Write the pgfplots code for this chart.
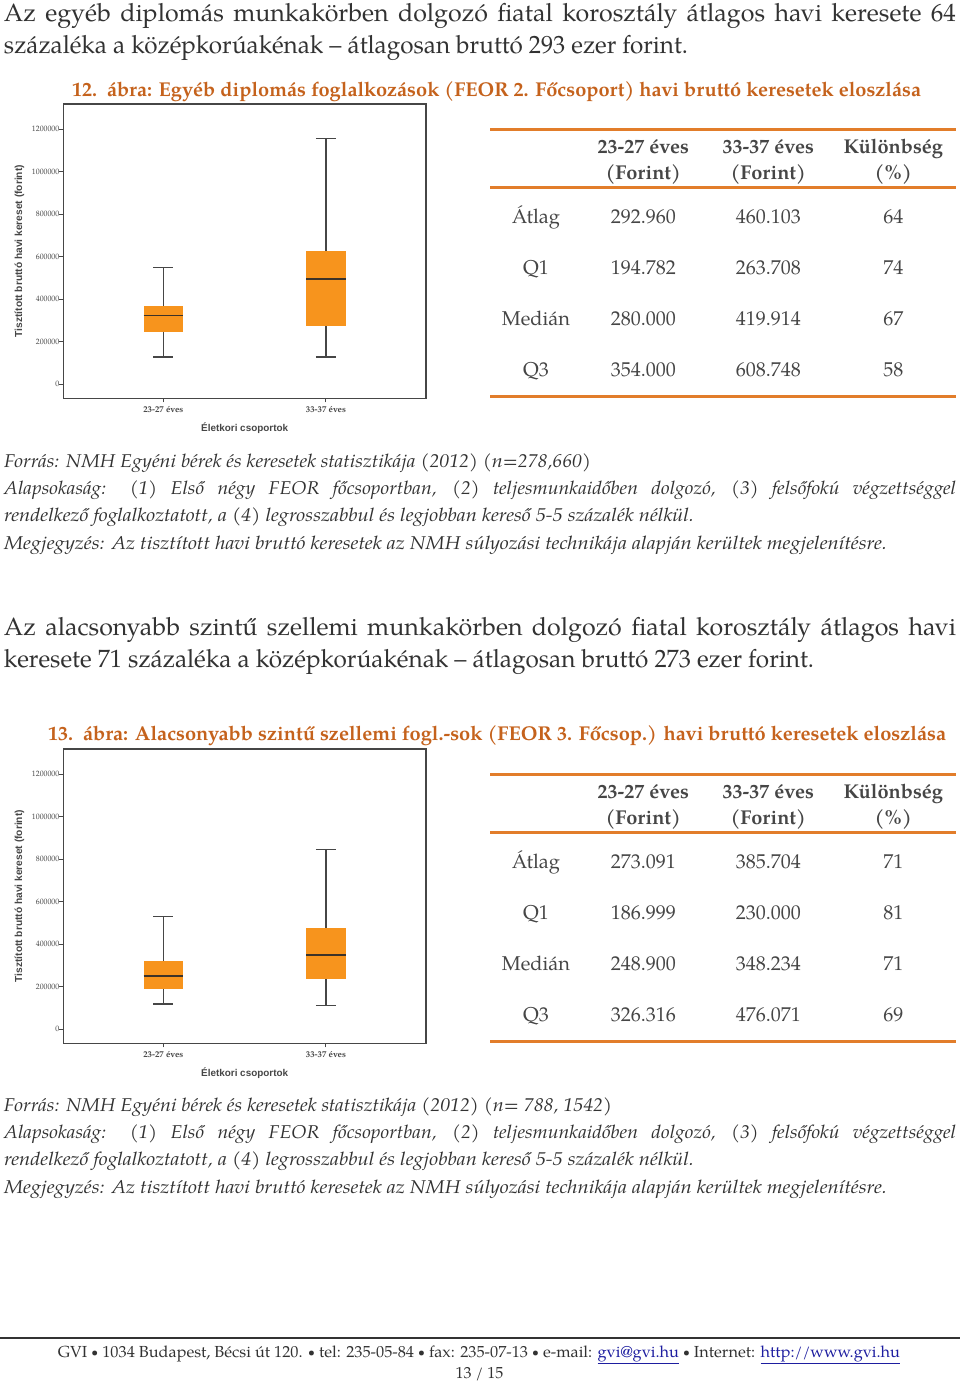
\documentclass[border=0pt]{standalone}
\usepackage{fontspec}
\setmainfont{TeX Gyre Pagella}
\newfontfamily\sansf{Liberation Sans}
\usepackage{graphicx}
\usepackage{pgfplots}
\pgfplotsset{compat=1.18}
\usepgfplotslibrary{statistics}

\definecolor{boxor}{RGB}{247,148,29}
\definecolor{ruleor}{RGB}{226,125,42}
\definecolor{capor}{RGB}{197,98,28}
\definecolor{txt}{RGB}{50,50,50}
\definecolor{axgray}{RGB}{70,70,70}
\definecolor{medgray}{RGB}{60,50,40}
\definecolor{linkblue}{RGB}{30,30,160}

\newcommand\fitline[2]{\resizebox{#1}{\height}{#2}}
\newcommand\bul{\raisebox{0.1ex}{\scalebox{0.75}{•}}}

\pgfplotsset{
  boxax/.style={
    scale only axis, width=362.7pt, height=294.3pt,
    xmin=-0.615, xmax=1.615, ymin=-67000, ymax=1319000,
    xtick={0,1}, xticklabels={23-27 éves, 33-37 éves},
    ytick={0,200000,400000,600000,800000,1000000,1200000},
    scaled y ticks=false,
    yticklabel style={/pgf/number format/fixed, /pgf/number format/1000 sep={},
      /pgf/number format/assume math mode=true,
      font=\fontsize{7.8}{9}\selectfont, text=axgray},
    xticklabel style={font=\bfseries\fontsize{8.8}{10}\selectfont, text=axgray, yshift=-4pt},
    tick align=outside, tick pos=left, major tick length=4pt,
    axis line style={axgray, line width=1.1pt},
    every tick/.style={axgray, line width=1pt},
    xlabel={Életkori csoportok},
    ylabel={Tisztított bruttó havi kereset (forint)},
    xlabel style={font=\sansf\bfseries\fontsize{9.9}{11}\selectfont, text=axgray,
      at={(axis description cs:0.5,-0.102)}, anchor=center},
    ylabel style={font=\sansf\bfseries\fontsize{10.2}{11}\selectfont, text=axgray,
      at={(axis description cs:-0.121,0.5)}, anchor=center},
    boxplot/draw direction=y,
  },
  bx/.style={draw=axgray, line width=1.4pt,
    boxplot/box extend=0.242, boxplot/whisker extend=0.123,
    boxplot/every box/.style={draw=none, fill=boxor},
    boxplot/every median/.style={draw=medgray, line width=1.5pt}},
}

\begin{document}
\begin{tikzpicture}[every node/.style={inner sep=0pt, outer sep=0pt, text=txt}]
\useasboundingbox (0,0) rectangle (960pt,-1384pt);
\fill[white] (0,0) rectangle (960pt,-1384pt);

% ---------- paragraph 1
\node[anchor=base west, font=\fontsize{25}{30}\selectfont] at (4pt,-21pt)
  {\makebox[952pt][s]{Az egyéb diplomás munkakörben dolgozó fiatal korosztály átlagos havi keresete 64}};
\node[anchor=base west] at (4pt,-53pt)
  {\fitline{684pt}{\fontsize{25}{30}\selectfont százaléka a középkorúakénak – átlagosan bruttó 293 ezer forint.}};
% caption 12
\node[anchor=base west] at (72pt,-96pt)
  {\fitline{849pt}{\color{capor}\bfseries\fontsize{20}{24}\selectfont 12.\ \ ábra: Egyéb diplomás foglalkozások (FEOR 2. Főcsoport) havi bruttó keresetek eloszlása}};

% ---------- chart 1
\begin{axis}[boxax, at={(63.3pt,-398.3pt)}, anchor=south west]
\addplot[bx, boxplot prepared={draw position=0, lower whisker=127000, lower quartile=243000,
  median=322000, upper quartile=366000, upper whisker=548000}] coordinates {};
\addplot[bx, boxplot prepared={draw position=1, lower whisker=127000, lower quartile=273000,
  median=495000, upper quartile=627000, upper whisker=1156000}] coordinates {};
\end{axis}

% ---------- table 1
\begin{scope}
\draw[ruleor, line width=3pt] (490pt,-129.5pt) -- (956pt,-129.5pt);
\draw[ruleor, line width=3pt] (490pt,-187pt) -- (956pt,-187pt);
\draw[ruleor, line width=3pt] (490pt,-396.3pt) -- (956pt,-396.3pt);
\foreach \x/\a/\b in {643.3/23-27 éves/(Forint), 768.3/33-37 éves/(Forint), 893.3/Különbség/(\%)}{
  \node[anchor=base, font=\bfseries\fontsize{20}{24}\selectfont, text=axgray] at (\x pt,-153pt) {\a};
  \node[anchor=base, font=\bfseries\fontsize{20}{24}\selectfont, text=axgray] at (\x pt,-179.5pt) {\b};
}
\foreach \l/\a/\b/\c [count=\i from 0] in {Átlag/292.960/460.103/64, Q1/194.782/263.708/74, Medián/280.000/419.914/67, Q3/354.000/608.748/58}{
  \pgfmathsetmacro\yy{-223.3-51.1*\i}
  \node[anchor=base, font=\fontsize{20}{24}\selectfont, text=axgray] at (536pt,\yy pt) {\l};
  \node[anchor=base, font=\fontsize{20}{24}\selectfont, text=axgray] at (643.3pt,\yy pt) {\a};
  \node[anchor=base, font=\fontsize{20}{24}\selectfont, text=axgray] at (768.3pt,\yy pt) {\b};
  \node[anchor=base, font=\fontsize{20}{24}\selectfont, text=axgray] at (893.3pt,\yy pt) {\c};
}
\end{scope}

% ---------- notes 1
\node[anchor=base west] at (4pt,-467pt)
  {\fitline{587pt}{\itshape\fontsize{18.5}{22}\selectfont Forrás: NMH Egyéni bérek és keresetek statisztikája (2012) (n=278,660)}};
\node[anchor=base west] at (4pt,-494.5pt)
  {\fitline{952pt}{\itshape\fontsize{18.5}{22}\selectfont\makebox[905pt][s]{Alapsokaság: (1) Első négy FEOR főcsoportban, (2) teljesmunkaidőben dolgozó, (3) felsőfokú végzettséggel}}};
\node[anchor=base west] at (4pt,-521.5pt)
  {\fitline{690pt}{\itshape\fontsize{18.5}{22}\selectfont rendelkező foglalkoztatott, a (4) legrosszabbul és legjobban kereső 5-5 százalék nélkül.}};
\node[anchor=base west] at (4pt,-549pt)
  {\fitline{883pt}{\itshape\fontsize{18.5}{22}\selectfont Megjegyzés: Az tisztított havi bruttó keresetek az NMH súlyozási technikája alapján kerültek megjelenítésre.}};

% ---------- paragraph 2
\node[anchor=base west, font=\fontsize{25}{30}\selectfont] at (4pt,-635pt)
  {\makebox[952pt][s]{Az alacsonyabb szintű szellemi munkakörben dolgozó fiatal korosztály átlagos havi}};
\node[anchor=base west] at (4pt,-667pt)
  {\fitline{810pt}{\fontsize{25}{30}\selectfont keresete 71 százaléka a középkorúakénak – átlagosan bruttó 273 ezer forint.}};
% caption 13
\node[anchor=base west] at (48pt,-740pt)
  {\fitline{898pt}{\color{capor}\bfseries\fontsize{20}{24}\selectfont 13.\ \ ábra: Alacsonyabb szintű szellemi fogl.-sok (FEOR 3. Főcsop.) havi bruttó keresetek eloszlása}};

% ---------- chart 2
\begin{axis}[boxax, at={(63.3pt,-1043.3pt)}, anchor=south west]
\addplot[bx, boxplot prepared={draw position=0, lower whisker=119000, lower quartile=191000,
  median=251000, upper quartile=323000, upper whisker=529000}] coordinates {};
\addplot[bx, boxplot prepared={draw position=1, lower whisker=111000, lower quartile=234000,
  median=350000, upper quartile=474000, upper whisker=845000}] coordinates {};
\end{axis}

% ---------- table 2
\begin{scope}[yshift=-645pt]
\draw[ruleor, line width=3pt] (490pt,-129.5pt) -- (956pt,-129.5pt);
\draw[ruleor, line width=3pt] (490pt,-187pt) -- (956pt,-187pt);
\draw[ruleor, line width=3pt] (490pt,-396.3pt) -- (956pt,-396.3pt);
\foreach \x/\a/\b in {643.3/23-27 éves/(Forint), 768.3/33-37 éves/(Forint), 893.3/Különbség/(\%)}{
  \node[anchor=base, font=\bfseries\fontsize{20}{24}\selectfont, text=axgray] at (\x pt,-153pt) {\a};
  \node[anchor=base, font=\bfseries\fontsize{20}{24}\selectfont, text=axgray] at (\x pt,-179.5pt) {\b};
}
\foreach \l/\a/\b/\c [count=\i from 0] in {Átlag/273.091/385.704/71, Q1/186.999/230.000/81, Medián/248.900/348.234/71, Q3/326.316/476.071/69}{
  \pgfmathsetmacro\yy{-223.3-51.1*\i}
  \node[anchor=base, font=\fontsize{20}{24}\selectfont, text=axgray] at (536pt,\yy pt) {\l};
  \node[anchor=base, font=\fontsize{20}{24}\selectfont, text=axgray] at (643.3pt,\yy pt) {\a};
  \node[anchor=base, font=\fontsize{20}{24}\selectfont, text=axgray] at (768.3pt,\yy pt) {\b};
  \node[anchor=base, font=\fontsize{20}{24}\selectfont, text=axgray] at (893.3pt,\yy pt) {\c};
}
\end{scope}

% ---------- notes 2
\node[anchor=base west] at (4pt,-1111pt)
  {\fitline{608pt}{\itshape\fontsize{18.5}{22}\selectfont Forrás: NMH Egyéni bérek és keresetek statisztikája (2012) (n= 788, 1542)}};
\node[anchor=base west] at (4pt,-1138.5pt)
  {\fitline{952pt}{\itshape\fontsize{18.5}{22}\selectfont\makebox[905pt][s]{Alapsokaság: (1) Első négy FEOR főcsoportban, (2) teljesmunkaidőben dolgozó, (3) felsőfokú végzettséggel}}};
\node[anchor=base west] at (4pt,-1165.5pt)
  {\fitline{690pt}{\itshape\fontsize{18.5}{22}\selectfont rendelkező foglalkoztatott, a (4) legrosszabbul és legjobban kereső 5-5 százalék nélkül.}};
\node[anchor=base west] at (4pt,-1193pt)
  {\fitline{883pt}{\itshape\fontsize{18.5}{22}\selectfont Megjegyzés: Az tisztított havi bruttó keresetek az NMH súlyozási technikája alapján kerültek megjelenítésre.}};

% ---------- footer
\draw[txt, line width=1.5pt] (0pt,-1338pt) -- (960pt,-1338pt);
\node[anchor=base] at (479pt,-1357pt)
  {\fitline{842pt}{\fontsize{16}{19}\selectfont GVI \bul{} 1034 Budapest, Bécsi út 120. \bul{} tel: 235-05-84 \bul{} fax: 235-07-13 \bul{} e-mail: \textcolor{linkblue}{\underline{gvi@gvi.hu}} \bul{} Internet: \textcolor{linkblue}{\underline{http://www.gvi.hu}}}};
\node[anchor=base, font=\fontsize{16}{19}\selectfont] at (479.5pt,-1378.5pt) {13 / 15};
\end{tikzpicture}
\end{document}
